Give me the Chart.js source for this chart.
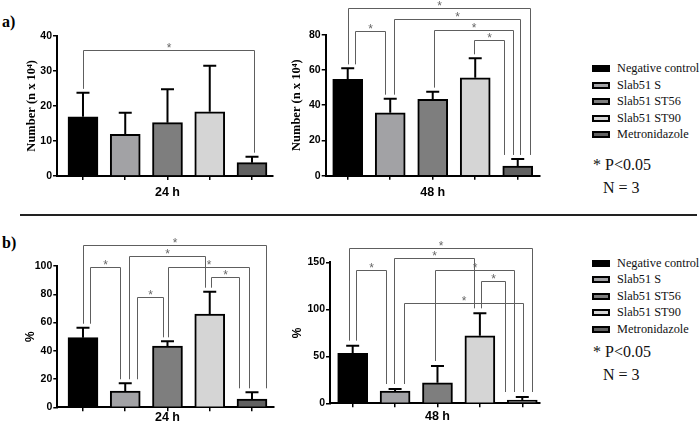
<!DOCTYPE html>
<html>
<head>
<meta charset="utf-8">
<script src="https://cdn.jsdelivr.net/npm/chart.js@4.4.0/dist/chart.umd.min.js"></script>
<style>
html,body{margin:0;padding:0;background:#fff;}
body{width:700px;height:425px;overflow:hidden;position:relative;}
canvas{position:absolute;}
.plabel{position:absolute;left:2px;font-family:"Liberation Serif",serif;font-weight:bold;font-size:16px;line-height:16px;color:#000;}
.legend{position:absolute;left:592px;font-family:"Liberation Serif",serif;font-size:12.3px;color:#111;}
.row{position:relative;height:16.5px;line-height:16.5px;white-space:nowrap;}
.sw{position:absolute;left:0;top:5px;width:18px;height:7px;box-sizing:border-box;border:2px solid #000;}
.txt{position:absolute;left:25px;top:0;}
.note{position:absolute;font-family:"Liberation Serif",serif;font-size:16px;line-height:18px;color:#111;white-space:nowrap;}
.divider{position:absolute;left:20px;width:677px;top:214px;height:1.5px;background:#222;}
</style>
</head>
<body>
<div class="plabel" style="top:14px;">a)</div>
<div class="plabel" style="top:235px;">b)</div>
<div class="divider"></div>
<canvas id="c1" width="280" height="210" style="left:0;top:0;"></canvas>
<canvas id="c2" width="300" height="210" style="left:250px;top:0;"></canvas>
<canvas id="c3" width="280" height="205" style="left:0;top:220px;"></canvas>
<canvas id="c4" width="300" height="205" style="left:250px;top:220px;"></canvas>
<div class="legend" id="legA" style="top:60px;"></div>
<div class="legend" id="legB" style="top:254.5px;"></div>
<div class="note" style="left:593px;top:156px;">* P&lt;0.05</div>
<div class="note" style="left:603px;top:179px;">N = 3</div>
<div class="note" style="left:593px;top:343px;">* P&lt;0.05</div>
<div class="note" style="left:603px;top:366px;">N = 3</div>
<script>
// ---------- data ----------
const categories = ['Negative control', 'Slab51 S', 'Slab51 ST56', 'Slab51 ST90', 'Metronidazole'];
const timeLabels = ['24 h', '48 h'];

const count24h    = [16.9, 11.9, 15.2, 18.3, 3.8];
const count24hErr = [6.8, 6.1, 9.5, 13.1, 1.7];
const count48h    = [54.7, 35.7, 43.3, 55.6, 5.5];
const count48hErr = [6.2, 8.0, 4.4, 11.0, 4.0];
const pct24h      = [49.3, 11.5, 43.4, 66.0, 5.9];
const pct24hErr   = [7.0, 5.5, 3.3, 15.8, 4.7];
const pct48h      = [53.2, 13.1, 21.9, 71.9, 3.5];
const pct48hErr   = [8.1, 2.1, 17.8, 23.8, 3.2];

const countTicks24h = [0, 10, 20, 30, 40];
const countTicks48h = [0, 20, 40, 60, 80];
const pctTicks24h   = [0, 20, 40, 60, 80, 100];
const pctTicks48h   = [0, 50, 100, 150];

// significant pairs (category indices), P<0.05
const sigCount24h = [[0, 4]];
const sigCount48h = [[0, 4], [1, 4], [0, 1], [2, 4], [3, 4]];
const sigPct24h   = [[0, 4], [1, 3], [0, 1], [2, 4], [3, 4], [1, 2]];
const sigPct48h   = [[0, 4], [1, 3], [0, 1], [2, 4], [3, 4], [1, 4]];

// ---------- styles / layout ----------
const barColors = ['#000000', '#a2a2a5', '#7e7e7e', '#d5d5d5', '#616161'];
const bracketLayout = {
  c1: { levels: [35.9], legs: [[0, 0.05]], gap: 4 },
  c2: { levels: [95.0, 88.9, 82.3, 82.7, 77.0],
        legs: [[0, 0.29], [0.08, 0.05], [0.17, -0.12], [0.03, -0.12], [-0.03, -0.32]], gap: 4 },
  c3: { levels: [114.9, 107.1, 99.0, 99.1, 92.4, 77.8],
        legs: [[0, 0.32], [0.08, -0.11], [0.17, -0.12], [0.02, -0.07], [0.04, -0.30], [0.29, -0.11]], gap: 4 },
  c4: { levels: [164.9, 154.3, 141.8, 141.8, 130.1, 106.4],
        legs: [[-0.09, 0.22], [-0.02, -0.14], [0.08, -0.21], [-0.05, -0.20], [0.02, -0.41], [0.20, 0.02]], gap: 5 }
};

Chart.defaults.font.family = '"Liberation Sans", Arial, sans-serif';
Chart.defaults.color = '#000';

function errPlugin(err) {
  return {
    id: 'errbars',
    afterDatasetsDraw(chart) {
      const { ctx, scales: { y } } = chart;
      const meta = chart.getDatasetMeta(0);
      const ds = chart.data.datasets[0].data;
      ctx.save();
      ctx.strokeStyle = '#000';
      ctx.lineWidth = 2;
      meta.data.forEach((bar, i) => {
        const top = y.getPixelForValue(ds[i].y + err[i]);
        ctx.beginPath();
        ctx.moveTo(bar.x, bar.y);
        ctx.lineTo(bar.x, top);
        ctx.moveTo(bar.x - 6.5, top);
        ctx.lineTo(bar.x + 6.5, top);
        ctx.stroke();
      });
      ctx.restore();
    }
  };
}

function sigPlugin(vals, err, pairs, lay) {
  return {
    id: 'sig',
    afterDraw(chart) {
      const { ctx, scales: { x, y } } = chart;
      ctx.save();
      ctx.strokeStyle = '#5e5e5e';
      ctx.lineWidth = 1;
      ctx.fillStyle = '#666';
      ctx.font = '12px "Liberation Sans", Arial, sans-serif';
      ctx.textAlign = 'center';
      ctx.textBaseline = 'alphabetic';
      pairs.forEach(([a, b], k) => {
        const [oa, ob] = lay.legs[k];
        const xa = Math.round(x.getPixelForValue(a + oa)) + 0.5;
        const xb = Math.round(x.getPixelForValue(b + ob)) + 0.5;
        const yl = Math.round(y.getPixelForValue(lay.levels[k])) + 0.5;
        const ya = y.getPixelForValue(vals[a] + err[a]) - lay.gap;
        const yb = y.getPixelForValue(vals[b] + err[b]) - lay.gap;
        ctx.beginPath();
        ctx.moveTo(xa, ya);
        ctx.lineTo(xa, yl);
        ctx.lineTo(xb, yl);
        ctx.lineTo(xb, yb);
        ctx.stroke();
        ctx.fillText('*', (xa + xb) / 2, yl + 1.5);
      });
      ctx.restore();
    }
  };
}

function makePanel(o) {
  const mid = Math.floor(categories.length / 2);
  return new Chart(document.getElementById(o.id), {
    type: 'bar',
    data: {
      labels: categories,
      datasets: [{
        data: o.values.map((v, i) => ({ x: i, y: v })),
        backgroundColor: barColors,
        borderColor: '#000',
        borderWidth: 2,
        borderSkipped: 'start',
        barThickness: 30
      }]
    },
    options: {
      responsive: false,
      animation: false,
      devicePixelRatio: 1,
      layout: { padding: o.pad },
      plugins: { legend: { display: false }, tooltip: { enabled: false } },
      scales: {
        x: {
          type: 'linear',
          offset: false,
          min: o.xMin, max: o.xMax,
          afterBuildTicks: (axis) => { axis.ticks = categories.map((c, i) => ({ value: i })); },
          afterFit: (s) => { s.height = o.xH; },
          ticks: {
            autoSkip: false, maxRotation: 0,
            callback: (v) => (v === mid ? o.time : ''),
            font: { weight: 'bold', size: 12.5 },
            color: '#000',
            padding: o.xPad
          },
          grid: { display: true, drawOnChartArea: false, drawTicks: true, tickLength: 4, color: '#000', lineWidth: 1.5, offset: false },
          border: { display: true, color: '#000', width: 2 }
        },
        y: {
          min: o.ticks[0], max: o.ticks[o.ticks.length - 1],
          afterFit: (s) => { s.width = o.yW; },
          ticks: {
            stepSize: o.ticks[1] - o.ticks[0],
            font: { weight: 'bold', size: 10.5 },
            color: '#000',
            padding: 1
          },
          grid: { display: true, drawOnChartArea: false, drawTicks: true, tickLength: 4, color: '#000', lineWidth: 1.5 },
          border: { display: true, color: '#000', width: 2 },
          title: {
            display: true, text: o.yTitle, color: '#000',
            font: o.yFont,
            padding: { top: o.titlePad, bottom: 0 }
          }
        }
      }
    },
    plugins: [errPlugin(o.err), sigPlugin(o.values, o.err, o.sig, bracketLayout[o.id])]
  });
}

const serifTitle = { family: '"Liberation Serif", "Times New Roman", serif', weight: 'bold', size: 12.5 };
const sansTitle = { family: '"Liberation Sans", Arial, sans-serif', weight: 'bold', size: 12 };

makePanel({ id: 'c1', values: count24h, err: count24hErr, ticks: countTicks24h, sig: sigCount24h,
  time: timeLabels[0], yTitle: 'Number (n x 10⁴)', yFont: serifTitle, titlePad: 24.5,
  pad: { left: 0, top: 35.7, right: 7, bottom: 0 }, yW: 57, xH: 34, xMin: -0.615, xMax: 4.497, xPad: 5.5 });
makePanel({ id: 'c2', values: count48h, err: count48hErr, ticks: countTicks48h, sig: sigCount48h,
  time: timeLabels[1], yTitle: 'Number (n x 10⁴)', yFont: serifTitle, titlePad: 39.2,
  pad: { left: 0, top: 34.7, right: 10, bottom: 0 }, yW: 75.7, xH: 34.3, xMin: -0.518, xMax: 4.524, xPad: 5.5 });
makePanel({ id: 'c3', values: pct24h, err: pct24hErr, ticks: pctTicks24h, sig: sigPct24h,
  time: timeLabels[0], yTitle: '%', yFont: sansTitle, titlePad: 23.5,
  pad: { left: 0, top: 46, right: 6, bottom: 0 }, yW: 57.3, xH: 17.7, xMin: -0.608, xMax: 4.521, xPad: -1.5 });
makePanel({ id: 'c4', values: pct48h, err: pct48hErr, ticks: pctTicks48h, sig: sigPct48h,
  time: timeLabels[1], yTitle: '%', yFont: sansTitle, titlePad: 40.1,
  pad: { left: 0, top: 42.3, right: 10, bottom: 0 }, yW: 80, xH: 21.7, xMin: -0.535, xMax: 4.418, xPad: 1.9 });

function buildLegend(id) {
  const el = document.getElementById(id);
  categories.forEach((c, i) => {
    const row = document.createElement('div');
    row.className = 'row';
    const sw = document.createElement('div');
    sw.className = 'sw';
    sw.style.background = barColors[i];
    const t = document.createElement('div');
    t.className = 'txt';
    t.textContent = c;
    row.appendChild(sw);
    row.appendChild(t);
    el.appendChild(row);
  });
}
buildLegend('legA');
buildLegend('legB');
</script>
</body>
</html>
